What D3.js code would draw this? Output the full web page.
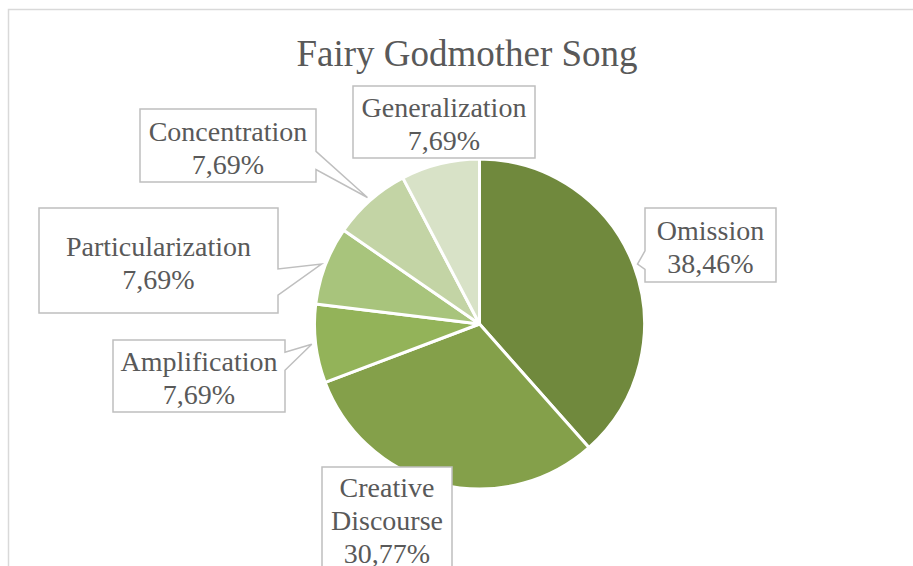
<!DOCTYPE html>
<html>
<head>
<meta charset="utf-8">
<script src="https://cdn.jsdelivr.net/npm/d3@7"></script>
<style>
  body { margin: 0; background: #fff; }
</style>
</head>
<body>
<div id="chart"></div>
<script>
const categories = ["Omission", "Creative Discourse", "Amplification", "Particularization", "Concentration", "Generalization"];
const values = [38.46, 30.77, 7.69, 7.69, 7.69, 7.69];
const valueLabels = ["38,46%", "30,77%", "7,69%", "7,69%", "7,69%", "7,69%"];
const labelLines = [["Omission"], ["Creative", "Discourse"], ["Amplification"], ["Particularization"], ["Concentration"], ["Generalization"]];
const colors = ["#70893d", "#84a04a", "#93b359", "#a8c47c", "#c3d4a5", "#d8e2c7"];

// callout boxes (left, top, width, height) and whether they point at the slice
const boxes = [
  {x: 645, y: 208, w: 131, h: 74, pointer: true},
  {x: 322, y: 467, w: 130, h: 103, pointer: false},
  {x: 113, y: 340, w: 172, h: 72, pointer: true},
  {x: 39, y: 208, w: 239, h: 105, pointer: true},
  {x: 140, y: 109, w: 176, h: 73, pointer: true},
  {x: 353, y: 86, w: 182, h: 72, pointer: false}
];

const fontFamily = "'Liberation Serif', 'Times New Roman', Times, 'DejaVu Serif', serif";
const width = 913, height = 566;
const cx = 479.5, cy = 324, radius = 165;
const lineHeight = 33;

const svg = d3.select("#chart").append("svg")
  .attr("width", width)
  .attr("height", height)
  .style("display", "block");

svg.append("rect")
  .attr("width", width).attr("height", height)
  .attr("fill", "#fff");

// chart area border (runs off right and bottom)
svg.append("rect")
  .attr("x", 8.5).attr("y", 9.5)
  .attr("width", 1000).attr("height", 1000)
  .attr("fill", "none")
  .attr("stroke", "#d9d9d9")
  .attr("stroke-width", 1.5);

svg.append("text")
  .attr("x", 467).attr("y", 66)
  .attr("text-anchor", "middle")
  .attr("font-family", fontFamily)
  .attr("font-size", 37)
  .attr("fill", "#595959")
  .text("Fairy Godmother Song");

const data = categories.map((c, i) => ({name: c, value: values[i], i: i}));

const pie = d3.pie()
  .sort(null)
  .value(d => d.value);

const arcs = pie(data);

const arc = d3.arc()
  .innerRadius(0)
  .outerRadius(radius);

const g = svg.append("g")
  .attr("transform", "translate(" + cx + "," + cy + ")");

g.selectAll("path.slice")
  .data(arcs)
  .enter()
  .append("path")
  .attr("class", "slice")
  .attr("d", arc)
  .attr("fill", d => colors[d.data.i])
  .attr("stroke", "#fff")
  .attr("stroke-width", 3)
  .attr("stroke-linejoin", "round");

// callouts
function calloutPath(b, tip) {
  const x0 = b.x, y0 = b.y, x1 = b.x + b.w, y1 = b.y + b.h;
  if (!tip) {
    return "M" + x0 + "," + y0 + "H" + x1 + "V" + y1 + "H" + x0 + "Z";
  }
  const below = tip[1] > y0 + b.h / 2;
  const a = y0 + b.h * (below ? 0.58 : 0.17);
  const c = y0 + b.h * (below ? 0.83 : 0.42);
  if (tip[0] > x1) {
    return "M" + x0 + "," + y0 + "H" + x1 + "V" + a + "L" + tip[0] + "," + tip[1] +
      "L" + x1 + "," + c + "V" + y1 + "H" + x0 + "Z";
  }
  return "M" + x0 + "," + y0 + "H" + x1 + "V" + y1 + "H" + x0 + "V" + c +
    "L" + tip[0] + "," + tip[1] + "L" + x0 + "," + a + "Z";
}

const labels = svg.append("g");

arcs.forEach(function (d) {
  const i = d.data.i;
  const b = boxes[i];
  let tip = null;
  if (b.pointer) {
    const mid = (d.startAngle + d.endAngle) / 2;
    const r = radius + 4;
    tip = [cx + r * Math.sin(mid), cy - r * Math.cos(mid)];
  }
  labels.append("path")
    .attr("d", calloutPath(b, tip))
    .attr("fill", "#fff")
    .attr("stroke", "#bfbfbf")
    .attr("stroke-width", 1.5);

  const lines = labelLines[i].concat([valueLabels[i]]);
  const top = b.y + (b.h - lines.length * lineHeight) / 2 + 28;
  const t = labels.append("text")
    .attr("text-anchor", "middle")
    .attr("font-family", fontFamily)
    .attr("font-size", 28)
    .attr("fill", "#595959");
  lines.forEach(function (line, k) {
    t.append("tspan")
      .attr("x", b.x + b.w / 2)
      .attr("y", top + k * lineHeight)
      .text(line);
  });
});
</script>
</body>
</html>
